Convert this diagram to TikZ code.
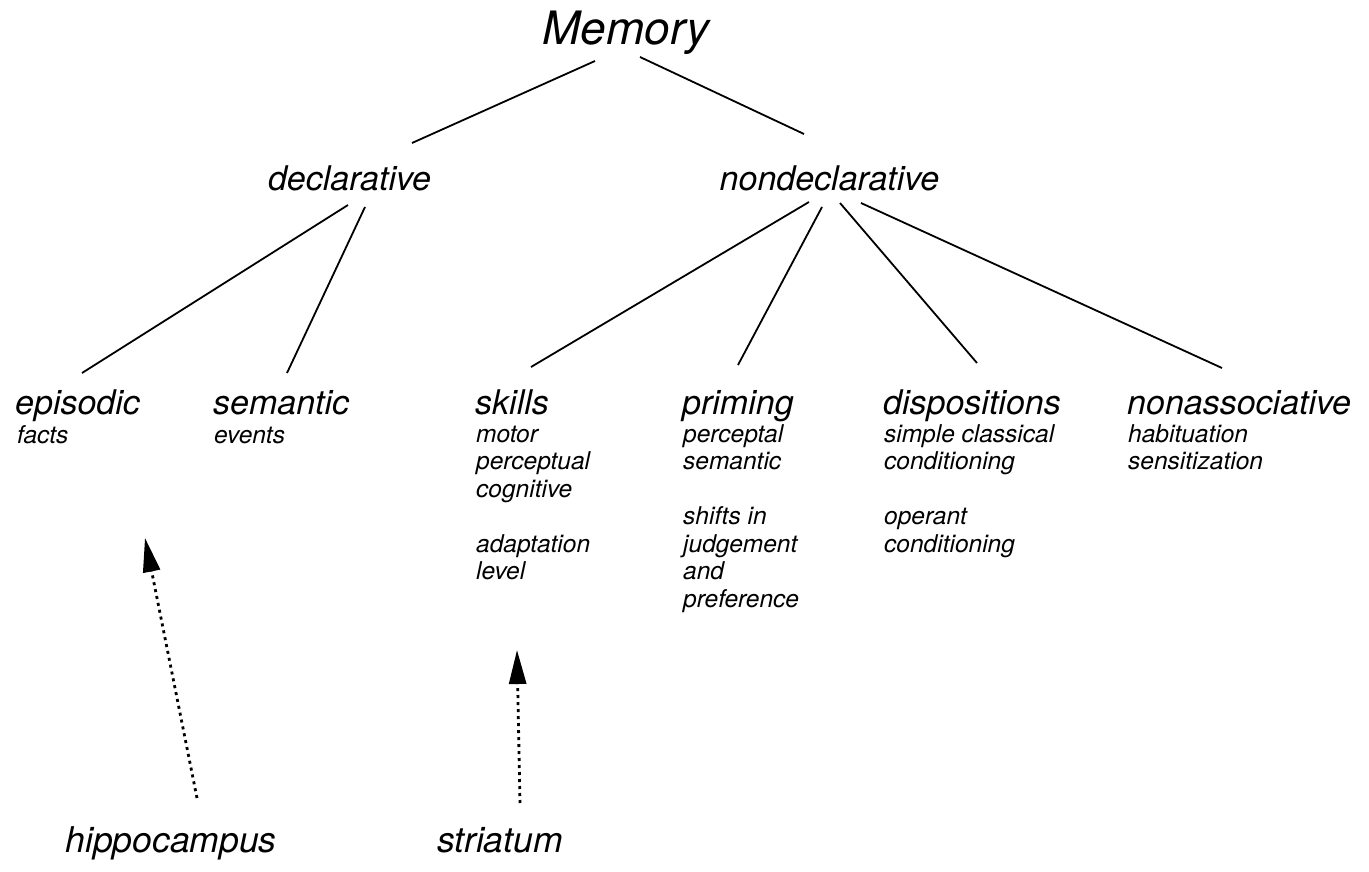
\documentclass[tikz,border=0pt]{standalone}
\usepackage{fontspec}
\setmainfont{TeX Gyre Heros}
\usetikzlibrary{calc,arrows.meta}

\tikzset{
  top/.style={inner sep=0pt,anchor=base,font=\fontsize{46}{50}\selectfont\itshape},
  head/.style={inner sep=0pt,anchor=base,font=\fontsize{34}{38}\selectfont\itshape},
  kind/.style={inner sep=0pt,anchor=base west,font=\fontsize{34}{38}\selectfont\itshape},
  % multi-line lists: the base anchor sits on the last line
  items/.style={inner sep=0pt,anchor=base west,align=left,font=\fontsize{24.5}{27.5}\selectfont\itshape},
  region/.style={inner sep=0pt,anchor=base,font=\fontsize{35.5}{40}\selectfont\itshape},
  branch/.style={line width=1.8pt},
  pathway/.style={line width=2.8pt,dash pattern=on 3pt off 4pt,-{Triangle[length=34pt,width=17pt]}}
}

\begin{document}
\begin{tikzpicture}[x=1pt,y=1pt]
	\useasboundingbox(0,0)rectangle(1369,-872);
	% top levels
	\node[top](memory)at(626,-45){Memory};
	\node[head](decl)at(349.5,-190){declarative};
	\node[head](nondecl)at(829.5,-190){nondeclarative};
	% kinds of memory
	\node[kind](episodic)at(15,-414){episodic};
	\node[kind](semantic)at(213,-414){semantic};
	\node[kind](skills)at(475,-414){skills};
	\node[kind](priming)at(682,-414){priming};
	\node[kind](dispos)at(883,-414){dispositions};
	\node[kind](nonassoc)at(1127,-414){nonassociative};
	\node[items](episodic-list)at(17,-443){facts};
	\node[items](semantic-list)at(214,-443){events};
	\node[items](skills-list)at(476,-579.5){motor\\perceptual\\cognitive\\[27.5pt]adaptation\\level};
	\node[items](priming-list)at(683,-607){perceptal\\semantic\\[27.5pt]shifts in\\judgement\\and\\preference};
	\node[items](dispos-list)at(884,-552){simple classical\\conditioning\\[27.5pt]operant\\conditioning};
	\node[items](nonassoc-list)at(1128,-469.5){habituation\\sensitization};
	% brain regions
	\node[region](hippo)at(171,-852){hippocampus};
	\node[region](striatum)at(500,-852){striatum};
	\coordinate(hippo-tip)at(145,-538);
	\coordinate(striatum-tip)at(517,-650);
	% tree
	\draw[branch]($(memory.base)+(-31,-16)$)--($(decl.base)+(62.5,47)$);
	\draw[branch]($(memory.base)+(14,-12)$)--($(nondecl.base)+(-25.5,56)$);
	\draw[branch]($(decl.base)+(-1.5,-15)$)--($(episodic.base west)+(67,41)$);
	\draw[branch]($(decl.base)+(15.5,-17)$)--($(semantic.base west)+(74,41)$);
	\draw[branch]($(nondecl.base)+(-20.5,-12)$)--($(skills.base west)+(56,47)$);
	\draw[branch]($(nondecl.base)+(-7.5,-17)$)--($(priming.base west)+(56,49)$);
	\draw[branch]($(nondecl.base)+(10.5,-13)$)--($(dispos.base west)+(94,51)$);
	\draw[branch]($(nondecl.base)+(31.5,-13)$)--($(nonassoc.base west)+(95,46)$);
	% arrows
	\draw[pathway]($(hippo.base)+(26,54)$)--(hippo-tip);
	\draw[pathway]($(striatum.base)+(20,49)$)--(striatum-tip);
\end{tikzpicture}
\end{document}
